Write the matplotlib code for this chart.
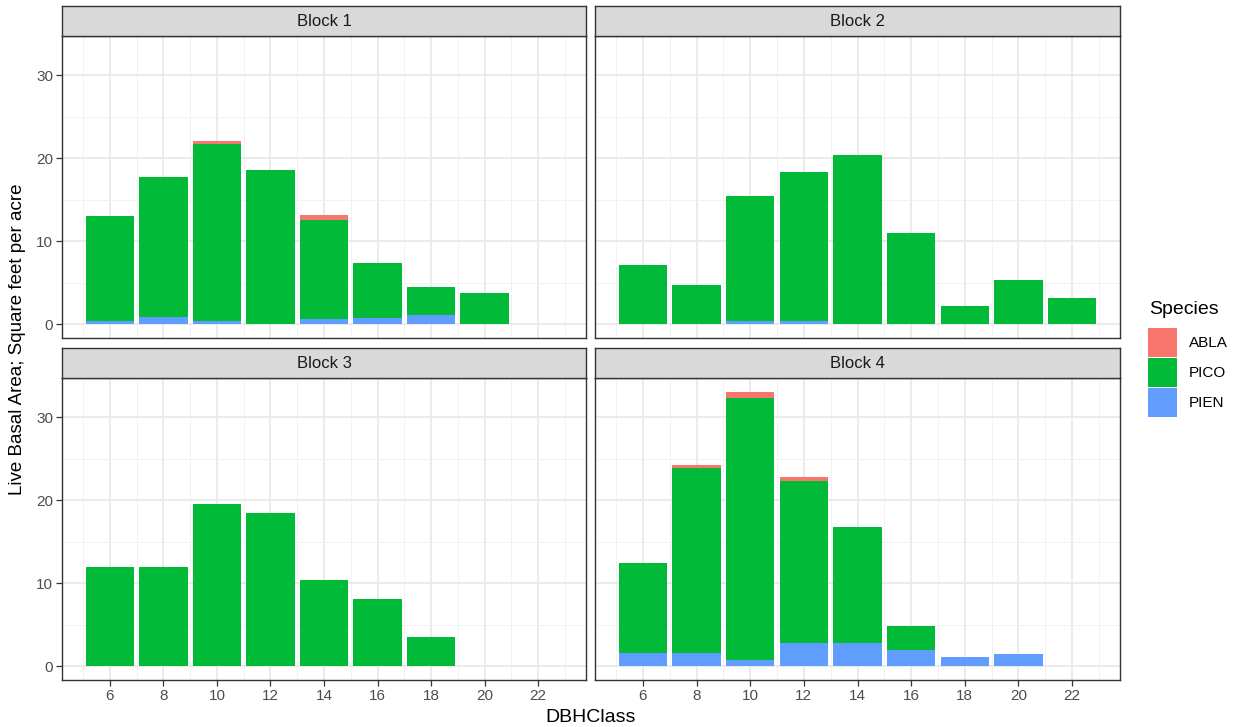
import matplotlib.pyplot as plt
from matplotlib.patches import Patch
from matplotlib.ticker import MultipleLocator

plt.rcParams['font.family'] = ['Liberation Sans', 'DejaVu Sans']

# =============================================================================
# Live basal area by DBH class, stacked by species
# =============================================================================
dbh_class = [6, 8, 10, 12, 14, 16, 18, 20, 22]
blocks = ['Block 1', 'Block 2', 'Block 3', 'Block 4']
species = ['ABLA', 'PICO', 'PIEN']

b1_pien = [0.35, 0.85, 0.35, 0, 0.65, 0.75, 1.1, 0, 0]
b1_pico = [12.7, 16.85, 21.35, 18.55, 11.95, 6.65, 3.4, 3.8, 0]
b1_abla = [0, 0, 0.4, 0, 0.6, 0, 0, 0, 0]

b2_pien = [0, 0, 0.4, 0.4, 0, 0, 0, 0, 0]
b2_pico = [7.2, 4.7, 15.1, 17.9, 20.4, 11.0, 2.2, 5.3, 3.2]
b2_abla = [0, 0, 0, 0, 0, 0, 0, 0, 0]

b3_pien = [0, 0, 0, 0, 0, 0, 0, 0, 0]
b3_pico = [12.0, 12.0, 19.5, 18.5, 10.45, 8.1, 3.5, 0, 0]
b3_abla = [0, 0, 0, 0, 0, 0, 0, 0, 0]

b4_pien = [1.55, 1.55, 0.72, 2.8, 2.85, 1.9, 1.17, 1.5, 0]
b4_pico = [10.85, 22.4, 31.6, 19.5, 13.95, 2.95, 0, 0, 0]
b4_abla = [0, 0.28, 0.75, 0.5, 0, 0, 0, 0, 0]

colors = {'ABLA': '#F8766D', 'PICO': '#00BA38', 'PIEN': '#619CFF'}

W, H = 1243, 727
fig = plt.figure(figsize=(W / 100, H / 100), dpi=100)


def box(l, r, t, b):
    return [l / W, 1 - b / H, (r - l) / W, (b - t) / H]


# (left, right, strip top, panel top, panel bottom) in pixels
panels = [
    (62, 586, 6, 36, 338),
    (595, 1120, 6, 36, 338),
    (62, 586, 348, 378, 680),
    (595, 1120, 348, 378, 680),
]
data = [
    (b1_pien, b1_pico, b1_abla),
    (b2_pien, b2_pico, b2_abla),
    (b3_pien, b3_pico, b3_abla),
    (b4_pien, b4_pico, b4_abla),
]

for i, ((l, r, st, t, b), (pien, pico, abla)) in enumerate(zip(panels, data)):
    ax = fig.add_axes(box(l, r, t, b))
    ax.set_axisbelow(True)
    base2 = [p + q for p, q in zip(pien, pico)]
    ax.bar(dbh_class, pien, width=1.8, color=colors['PIEN'], linewidth=0)
    ax.bar(dbh_class, pico, width=1.8, bottom=pien, color=colors['PICO'],
           linewidth=0)
    ax.bar(dbh_class, abla, width=1.8, bottom=base2, color=colors['ABLA'],
           linewidth=0)
    ax.set_xlim(4.21, 23.79)
    ax.set_ylim(-1.66, 34.75)
    ax.xaxis.set_major_locator(MultipleLocator(2))
    ax.xaxis.set_minor_locator(MultipleLocator(1))
    ax.yaxis.set_major_locator(MultipleLocator(10))
    ax.yaxis.set_minor_locator(MultipleLocator(5))
    ax.grid(which='major', color='#E8E8E8', linewidth=1.2)
    ax.grid(which='minor', color='#F2F2F2', linewidth=0.7)
    for s in ax.spines.values():
        s.set_color('#333333')
        s.set_linewidth(1.0)
    ax.tick_params(which='major', length=4, width=0.9, color='#333333',
                   labelcolor='#4D4D4D', labelsize=11, pad=2.5)
    ax.tick_params(which='minor', length=0)
    if i < 2:
        ax.tick_params(labelbottom=False, bottom=False)
    if i % 2 == 1:
        ax.tick_params(labelleft=False, left=False)

    sax = fig.add_axes(box(l, r, st, t))
    sax.set_facecolor('#D9D9D9')
    sax.set_xticks([])
    sax.set_yticks([])
    for s in sax.spines.values():
        s.set_color('#333333')
        s.set_linewidth(1.0)
    sax.text(0.5, 0.5, blocks[i], ha='center', va='center', fontsize=12,
             color='#1A1A1A', transform=sax.transAxes)

fig.text(591 / W, 1 - 717 / H, 'DBHClass', ha='center', va='center',
         fontsize=14)
fig.text(18 / W, 1 - 339 / H, 'Live Basal Area; Square feet per acre',
         ha='center', va='center', rotation=90, fontsize=13.5)

# legend: title placed by hand, keys below it
fig.text(1149 / W, 1 - 309 / H, 'Species', ha='left', va='center',
         fontsize=14)
handles = [Patch(facecolor=colors[s], edgecolor='none') for s in species]
fig.legend(handles, species, loc='upper left',
           bbox_to_anchor=(1137 / W, 1 - 317 / H), frameon=False,
           fontsize=11, handlelength=1.95, handleheight=2.55,
           handletextpad=0.75, labelspacing=0.08, borderpad=0.2)

fig.savefig('out.png', dpi=100)
